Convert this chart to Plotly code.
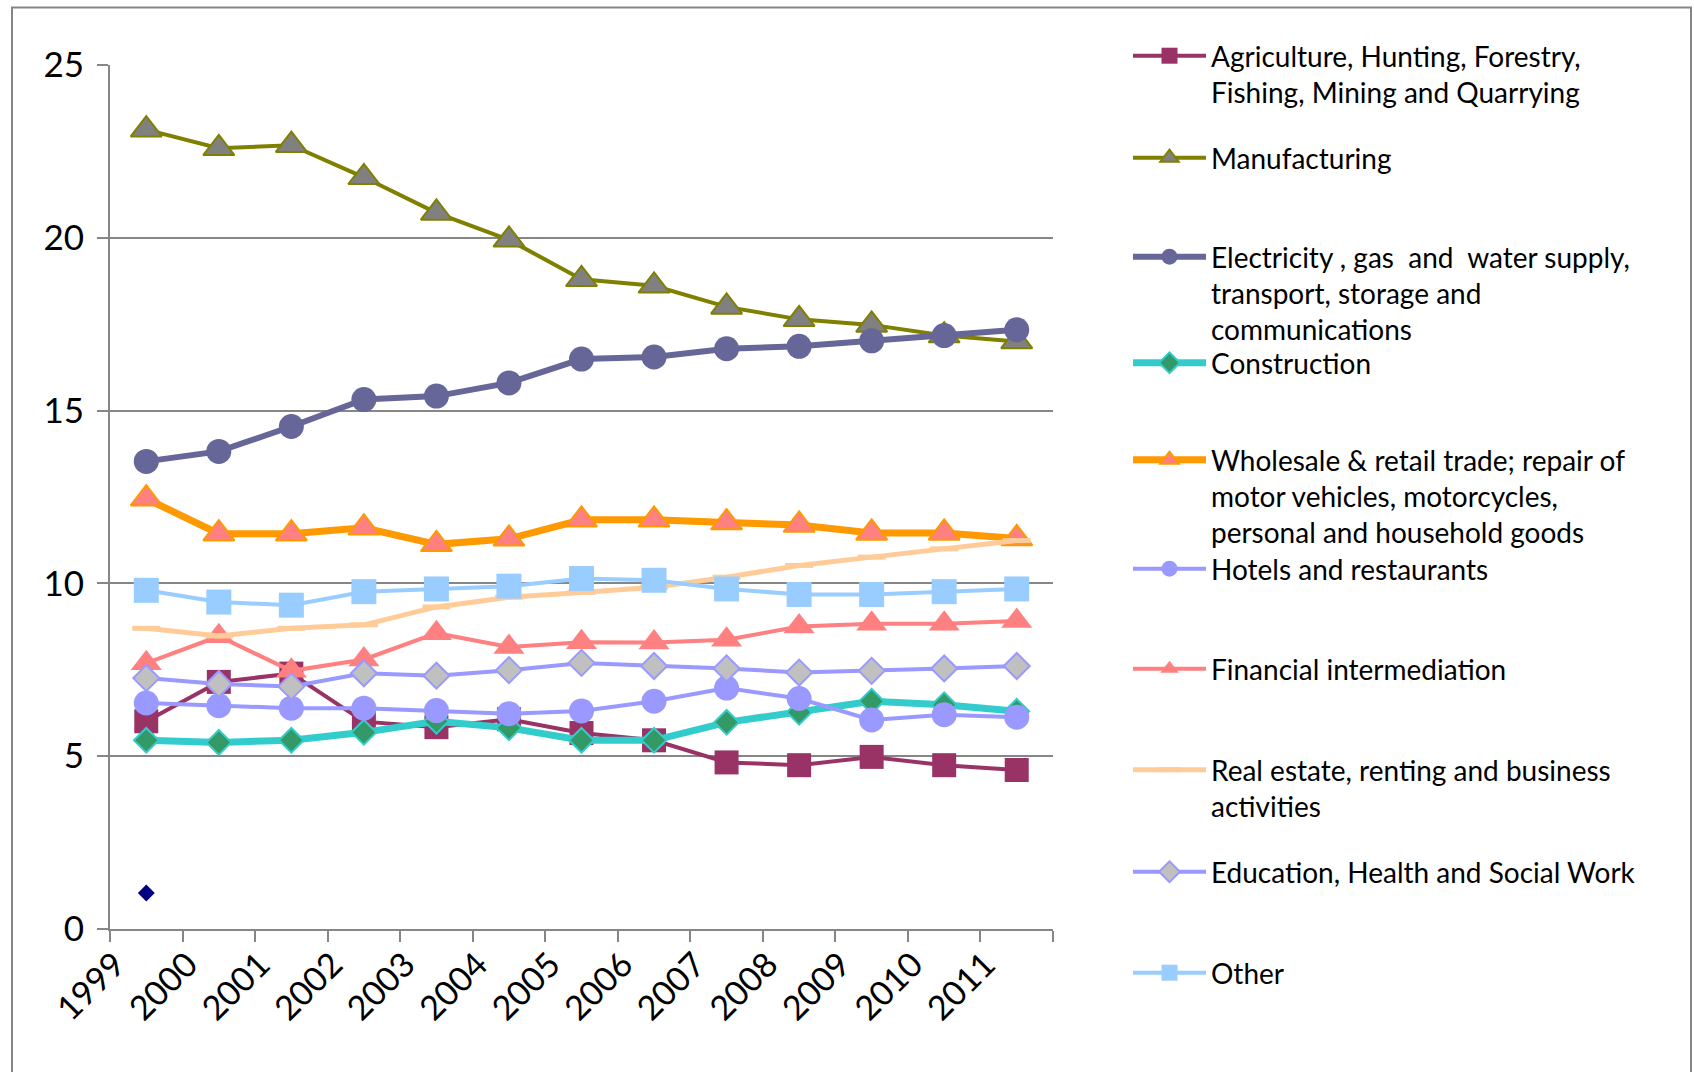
import plotly.graph_objects as go

# ---------------- data ----------------
years = list(range(1999, 2012))
year_labels = [str(y) for y in years]

agriculture = [6.01, 7.15, 7.39, 6.00, 5.84, 6.07, 5.67, 5.46, 4.82, 4.74, 4.98, 4.74, 4.60]
manufacturing = [23.13, 22.59, 22.68, 21.75, 20.72, 19.94, 18.80, 18.61, 18.00, 17.64, 17.48, 17.17, 17.00]
electricity = [13.53, 13.82, 14.54, 15.32, 15.42, 15.80, 16.49, 16.55, 16.79, 16.86, 17.02, 17.17, 17.34]
construction = [5.46, 5.40, 5.46, 5.69, 6.01, 5.82, 5.46, 5.46, 5.98, 6.27, 6.59, 6.49, 6.30]
wholesale = [12.45, 11.44, 11.44, 11.61, 11.13, 11.29, 11.84, 11.84, 11.76, 11.69, 11.46, 11.46, 11.30]
hotels = [6.54, 6.46, 6.39, 6.39, 6.32, 6.23, 6.31, 6.59, 6.97, 6.67, 6.05, 6.20, 6.13]
financial = [7.69, 8.47, 7.47, 7.80, 8.56, 8.16, 8.30, 8.29, 8.37, 8.75, 8.83, 8.83, 8.91]
real_estate = [8.70, 8.48, 8.70, 8.80, 9.32, 9.60, 9.74, 9.89, 10.18, 10.52, 10.76, 11.00, 11.24]
education = [7.26, 7.09, 7.02, 7.40, 7.33, 7.49, 7.70, 7.61, 7.54, 7.42, 7.47, 7.54, 7.61]
other = [9.80, 9.46, 9.37, 9.76, 9.84, 9.92, 10.14, 10.09, 9.84, 9.68, 9.68, 9.76, 9.84]
unlabelled = [1.04] + [None] * 12

names = [
    "Agriculture, Hunting, Forestry,<br>Fishing, Mining and Quarrying",
    "Manufacturing",
    "Electricity , gas  and  water supply,<br>transport, storage and<br>communications",
    "Construction",
    "Wholesale &amp; retail trade; repair of<br>motor vehicles, motorcycles,<br>personal and household goods",
    "Hotels and restaurants",
    "Financial intermediation",
    "Real estate, renting and business<br>activities",
    "Education, Health and Social Work",
    "Other",
]
values = [agriculture, manufacturing, electricity, construction, wholesale,
          hotels, financial, real_estate, education, other]

# style: line colour, line width, symbol, size, fill, marker border colour, border width
styles = [
    ("#993366", 4, "square", 24, "#993366", "#993366", 0),
    ("#808000", 4, "triangle-up", 27, "#808080", "#808000", 2),
    ("#666699", 6, "circle", 25, "#666699", "#666699", 0),
    ("#33CCCC", 7, "diamond", 19, "#339966", "#33CCCC", 2),
    ("#FF9900", 7, "triangle-up", 27, "#FF8080", "#FF9900", 2),
    ("#9999FF", 4, "circle", 25, "#9999FF", "#9999FF", 0),
    ("#FF8080", 4, "triangle-up", 27, "#FF8080", "#FF8080", 0),
    ("#FFCC99", 5, "line-ew", 20, "#FFCC99", "#FFCC99", 5),
    ("#9999FF", 4, "diamond", 20, "#C0C0C0", "#9999FF", 2),
    ("#99CCFF", 4, "square", 25, "#99CCFF", "#99CCFF", 0),
]

# legend entry centres (px from top)
legend_rows = [55, 157, 256, 362, 459, 568, 668, 769, 871, 972]

W, H = 1694, 1072
ML, MR, MT, MB = 110, 641, 65, 143
PW, PH = W - ML - MR, H - MT - MB
GRAY = "#868686"
FONT = "Lato"
ITEMW = 73

fig = go.Figure()
legend_ids = ["legend"] + [f"legend{i}" for i in range(2, 11)]
for i, (nm, vals, st) in enumerate(zip(names, values, styles)):
    lc, lw, sym, sz, fill, mlc, mlw = st
    fig.add_trace(go.Scatter(
        x=years, y=vals, name=nm, mode="lines+markers",
        line=dict(color=lc, width=lw),
        marker=dict(symbol=sym, size=sz, color=fill, line=dict(color=mlc, width=mlw)),
        legend=legend_ids[i],
    ))

fig.add_trace(go.Scatter(
    x=years, y=unlabelled, mode="markers", showlegend=False,
    marker=dict(symbol="diamond", size=13, color="#000080"),
))

# helper trace for rotated year labels on the overlay axis
fig.add_trace(go.Scatter(x=years, y=[None] * len(years), xaxis="x2",
                         showlegend=False, hoverinfo="skip"))

layout_legends = {}
for i, row in enumerate(legend_rows):
    layout_legends[legend_ids[i]] = dict(
        x=(1213 - ITEMW - 12) / W, y=1 - (row - 24) / H, xref="container", yref="container",
        xanchor="left", yanchor="top", valign="top", itemwidth=ITEMW,
        bgcolor="rgba(0,0,0,0)", borderwidth=0,
        font=dict(family=FONT, size=28, color="black"),
    )

fig.update_layout(
    width=W, height=H,
    margin=dict(l=ML, r=MR, t=MT, b=MB, pad=0),
    paper_bgcolor="white", plot_bgcolor="white",
    font=dict(family=FONT, color="black"),
    xaxis=dict(
        range=[years[0] - 0.5, years[-1] + 0.5],
        tickvals=[y - 0.5 for y in years] + [years[-1] + 0.5],
        showticklabels=False, ticks="outside", ticklen=11, tickwidth=2, tickcolor=GRAY,
        showline=True, linecolor=GRAY, linewidth=2, showgrid=False, zeroline=False,
    ),
    xaxis2=dict(
        overlaying="x", anchor="y", side="bottom",
        range=[years[0] - 0.5, years[-1] + 0.5],
        tickmode="array", tickvals=[y - 0.43 for y in years], ticktext=year_labels,
        tickangle=-45, ticks="outside", ticklen=1, tickcolor="rgba(0,0,0,0)",
        tickfont=dict(family=FONT, size=34, color="black"),
        showline=False, showgrid=False, zeroline=False,
    ),
    yaxis=dict(
        range=[0, 25], dtick=5, tick0=0,
        ticks="outside", ticklen=11, tickwidth=2, tickcolor=GRAY,
        showline=True, linecolor=GRAY, linewidth=2,
        showgrid=True, gridcolor=GRAY, gridwidth=2, zeroline=False,
        tickfont=dict(family=FONT, size=35, color="black"),
        ticklabelstandoff=6,
    ),
    shapes=[dict(
        type="rect", xref="paper", yref="paper",
        x0=(12 - ML) / PW, x1=(1691 - ML) / PW,
        y0=(MT + PH - 1080) / PH, y1=(MT + PH - 7.5) / PH,
        line=dict(color=GRAY, width=2), fillcolor="rgba(0,0,0,0)", layer="below",
    )],
    **layout_legends,
)

fig.write_html("out.html")
